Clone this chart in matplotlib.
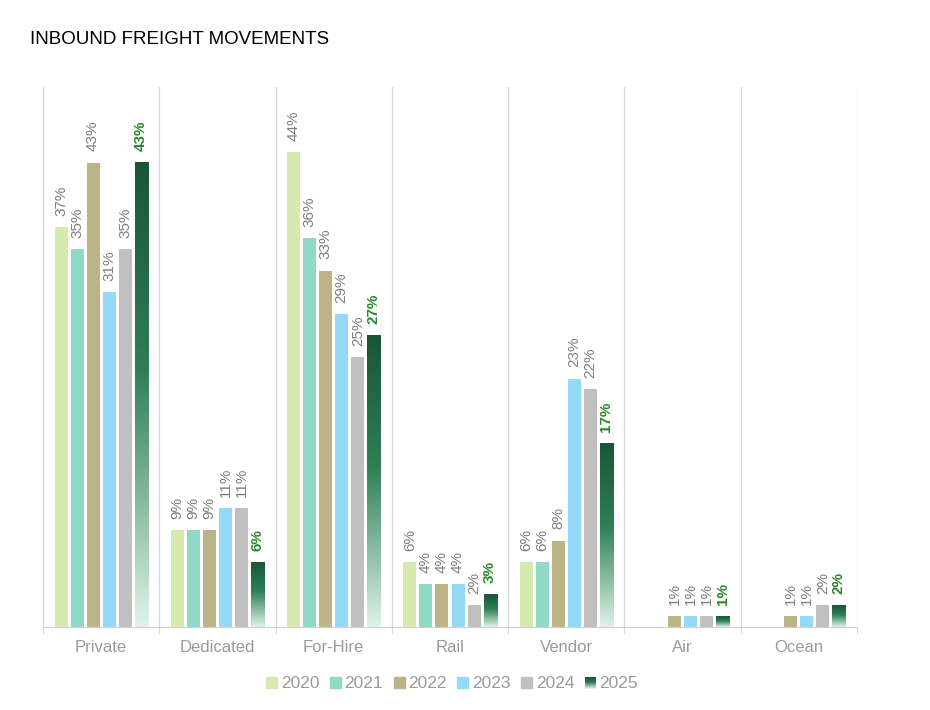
import numpy as np
import matplotlib
matplotlib.use("Agg")
import matplotlib.pyplot as plt
from matplotlib.colors import LinearSegmentedColormap
from matplotlib.legend_handler import HandlerBase
from matplotlib.patches import Rectangle

plt.rcParams['font.family'] = ['Liberation Sans', 'DejaVu Sans']

categories = ['Private', 'Dedicated', 'For-Hire', 'Rail', 'Vendor', 'Air', 'Ocean']
years = ['2020', '2021', '2022', '2023', '2024', '2025']
# percent values per year, None = no bar
v2020 = [37, 9, 44, 6, 6, None, None]
v2021 = [35, 9, 36, 4, 6, None, None]
v2022 = [43, 9, 33, 4, 8, 1, 1]
v2023 = [31, 11, 29, 4, 23, 1, 1]
v2024 = [35, 11, 25, 2, 22, 1, 2]
v2025 = [43, 6, 27, 3, 17, 1, 2]
series = [v2020, v2021, v2022, v2023, v2024, v2025]

colors = ['#d6e9ae', '#8fd9c6', '#bcb487', '#94d9f8', '#c0c0c0']
grad = LinearSegmentedColormap.from_list(
    'g25', [(0, '#dff3ea'), (0.55, '#2e7f56'), (1, '#1b5538')])

fig = plt.figure(figsize=(9.3, 7.1), dpi=100)
ax = fig.add_axes([43/930, 1-627/710, (857-43)/930, (627-87)/710])

slot = 16/116
width = 13/116
x = np.arange(len(categories))
grad_img = np.linspace(1, 0, 256).reshape(-1, 1)

for i, vals in enumerate(series):
    off = (i - 2.5) * slot
    for j, v in enumerate(vals):
        if v is None:
            continue
        xc = x[j] + off
        if i < 5:
            ax.bar(xc, v, width=width, color=colors[i], zorder=2)
            lab_col, weight = '#7f7f7f', 'normal'
        else:
            ax.imshow(grad_img, cmap=grad, aspect='auto', zorder=2,
                      extent=[xc - width/2, xc + width/2, 0, v],
                      interpolation='bilinear', vmin=0, vmax=1)
            lab_col, weight = '#2a8a2a', 'bold'
        ax.annotate(f'{v}%', (xc, v), xytext=(0, 8), textcoords='offset points',
                    rotation=90, ha='center', va='bottom', fontsize=11,
                    color=lab_col, fontweight=weight)

ax.set_xlim(-0.5, len(categories) - 0.5)
ax.set_ylim(0, 50)
ax.set_yticks([])
ax.set_xticks(x)
ax.set_xticklabels(categories, fontsize=12, color='#9a9a9a')
ax.tick_params(axis='x', which='major', length=0, pad=9)
ax.set_xticks(np.arange(-0.5, len(categories)), minor=True)
ax.tick_params(axis='x', which='minor', length=5, color='#d0d0d0')
for b in np.arange(-0.5, len(categories)):
    ax.axvline(b, color='#d9d9d9', lw=1, zorder=0)
for s in ['top', 'right', 'left']:
    ax.spines[s].set_visible(False)
ax.spines['bottom'].set_color('#d0d0d0')

fig.text(30/930, 1-40/710, 'INBOUND FREIGHT MOVEMENTS', fontsize=13.5,
         color='#000000', va='center', ha='left')


class GradHandler(HandlerBase):
    def create_artists(self, legend, orig, xd, yd, w, h, fontsize, trans):
        n = 12
        arts = []
        for k in range(n):
            c = grad(1 - k/(n-1))
            arts.append(Rectangle((xd, yd + h - (k+1)*h/n), w, h/n,
                                  facecolor=c, edgecolor='none', transform=trans))
        return arts


handles = [Rectangle((0, 0), 1, 1, color=c) for c in colors]
handles.append(Rectangle((0, 0), 1, 1, color='#1b5538'))
hmap = {handles[5]: GradHandler()}
leg = fig.legend(handles, years, loc='center', bbox_to_anchor=(452/930, 1-684/710),
                 ncol=6, frameon=False, fontsize=12.5, handlelength=0.65,
                 handleheight=0.65, handletextpad=0.2, columnspacing=0.6,
                 handler_map=hmap)
for t in leg.get_texts():
    t.set_color('#9a9a9a')

fig.savefig('out.png', dpi=100)
